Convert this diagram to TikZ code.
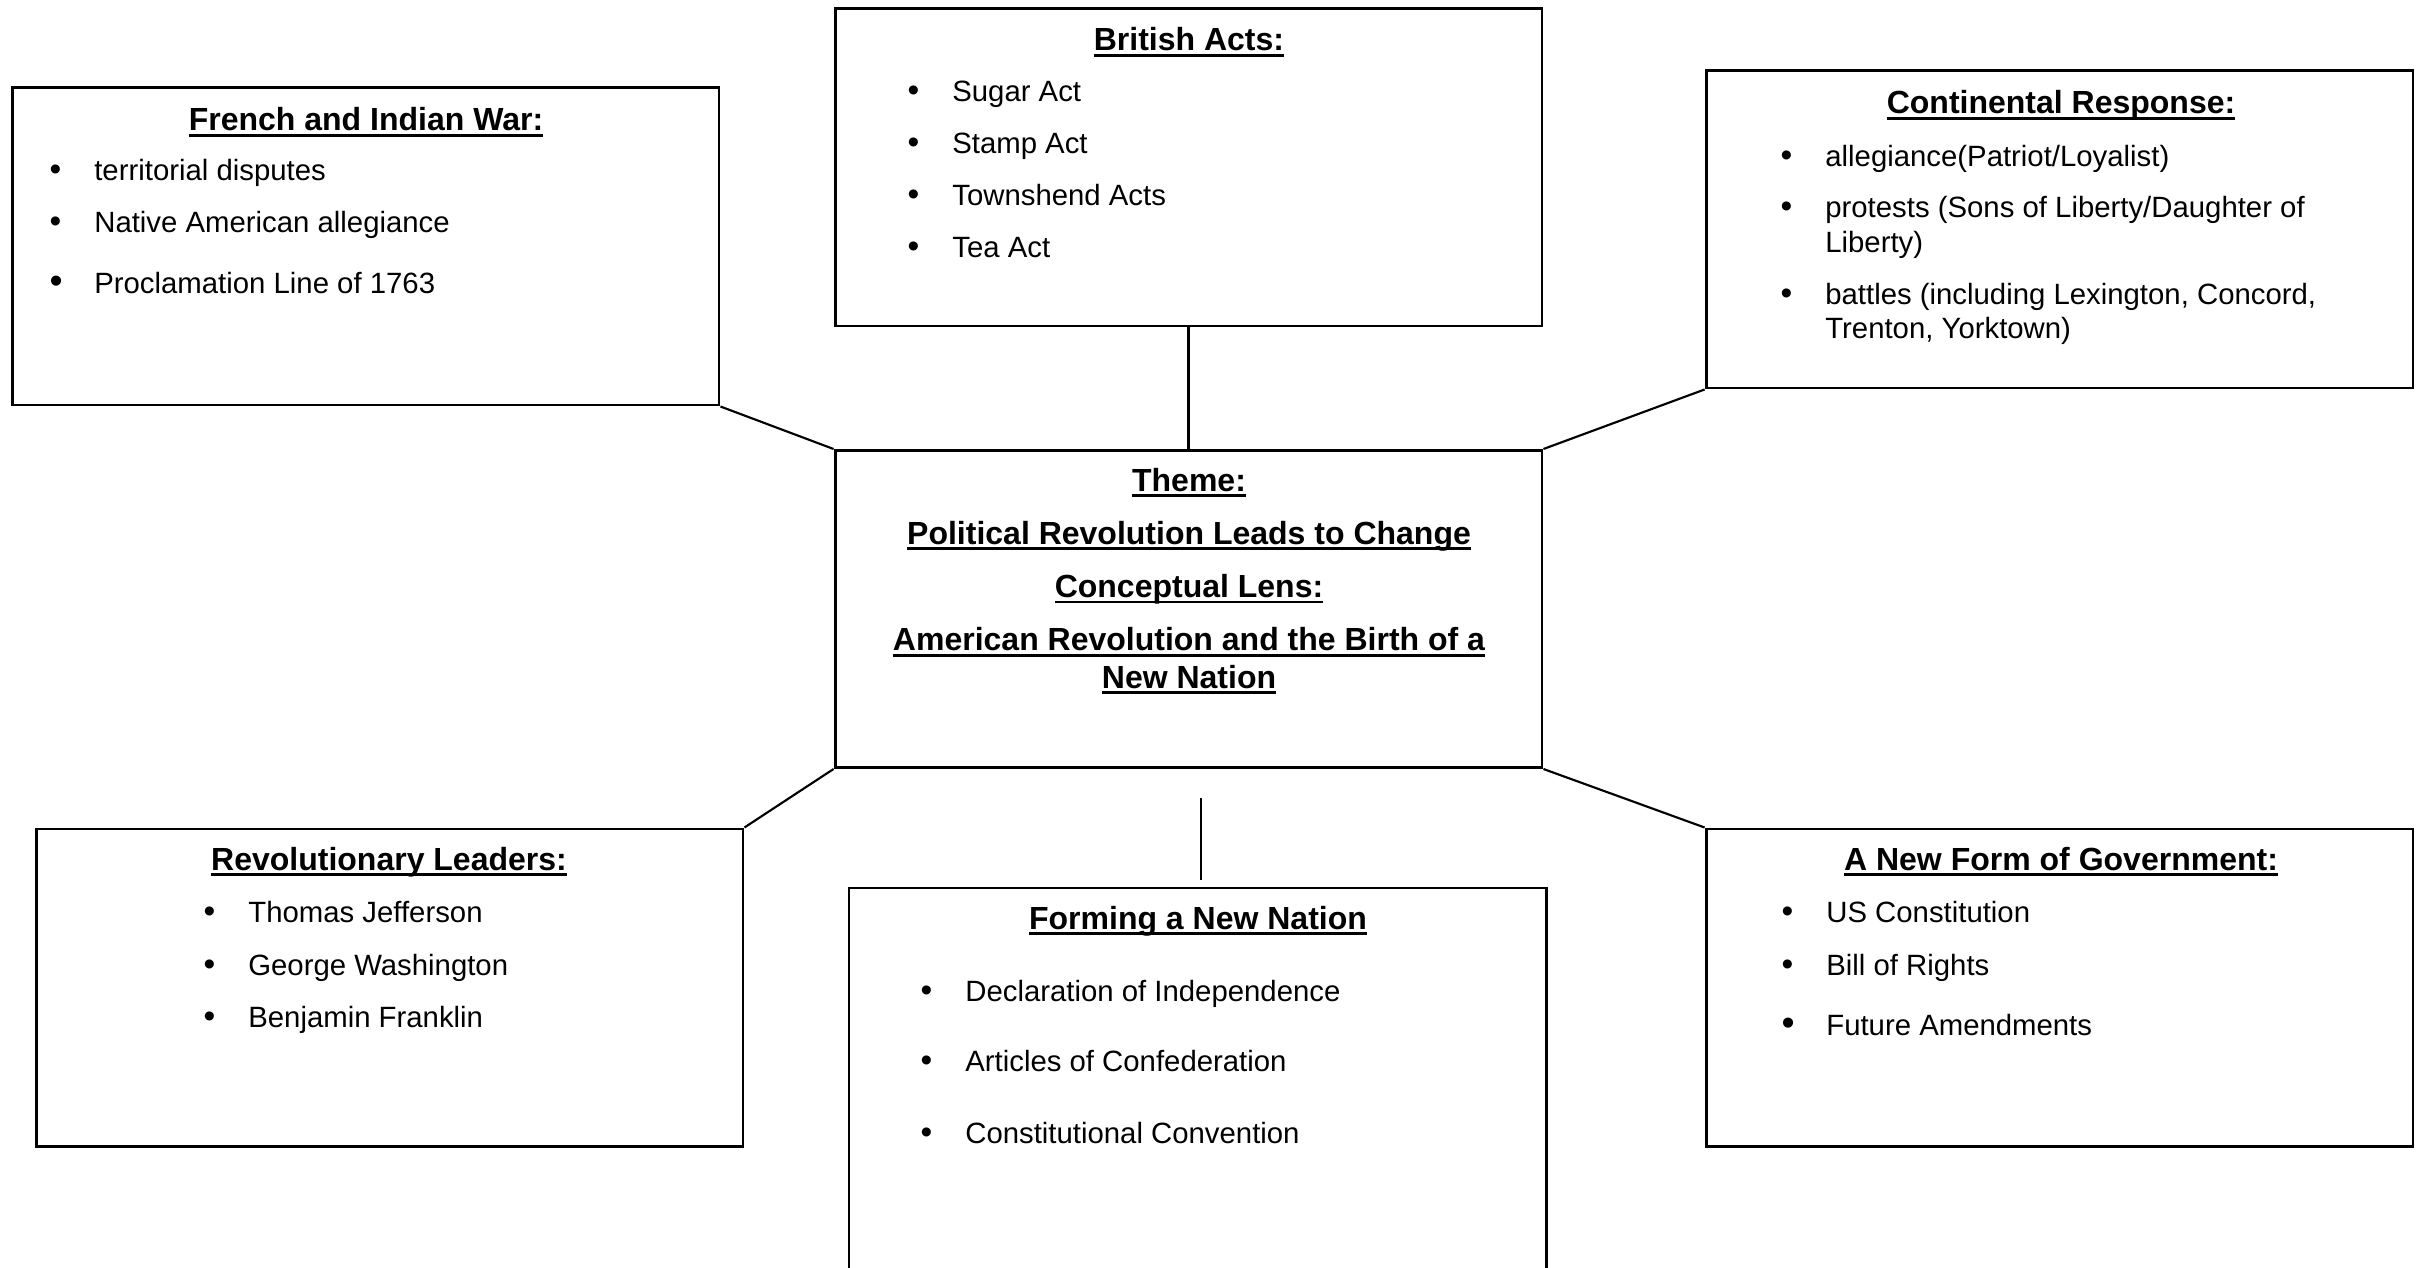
\documentclass[tikz,border=0pt]{standalone}
\usepackage{fontspec}
\setmainfont{Liberation Sans}
\usepackage{tikz}

\newbox\ulbox
\newcommand{\ultext}[1]{\setbox\ulbox=\hbox{\bfseries #1}\dp\ulbox=0pt\vtop{\box\ulbox\kern1pt\hrule height 1.1pt}}
\newcommand{\itm}[1]{\makebox[16.8pt][l]{\fontsize{12.5}{13}\selectfont\textbullet}#1}
\newcommand{\bigitm}[1]{\makebox[16.8pt][l]{\fontsize{14}{13}\selectfont\textbullet}#1}

\begin{document}
\begin{tikzpicture}[
  x=0.375pt, y=-0.375pt,
  topic/.style={rectangle, draw, line width=1.1pt, minimum width=265.1pt, minimum height=118.9pt, inner sep=0pt},
  heading/.style={anchor=base, inner sep=0pt, font=\fontsize{12}{14}\selectfont},
  lens/.style={anchor=north, inner sep=0pt, align=center, font=\fontsize{12}{14}\selectfont},
  items/.style={anchor=north west, inner sep=0pt, align=left, font=\fontsize{11}{13}\selectfont},
  link/.style={line width=0.8pt}
]
  \useasboundingbox (0,0) rectangle (2421,1268);
  \clip (0,0) rectangle (2421,1268);

  % boxes
  \node[topic] (war) at (365.5,246.5) {};
  \node[topic] (acts) at (1188.5,167.5) {};
  \node[topic] (resp) at (2059.5,229.5) {};
  \node[topic] (theme) at (1188.5,609) {};
  \node[topic] (leaders) at (389.5,987.5) {};
  \node[topic] (govt) at (2059.5,987.5) {};
  \node[topic, minimum width=261.4pt, minimum height=154.5pt] (nation) at (1197.5,1094) {};

  % headings
  \node[heading] (war-title) at (366,131) {\ultext{French and Indian War:}};
  \node[heading] (acts-title) at (1189,51) {\ultext{British Acts:}};
  \node[heading] (resp-title) at (2061,114) {\ultext{Continental Response:}};
  \node[heading] (leaders-title) at (389,870) {\ultext{Revolutionary Leaders:}};
  \node[heading] (nation-title) at (1198,929) {\ultext{Forming a New Nation}};
  \node[heading] (govt-title) at (2061,870) {\ultext{A New Form of Government:}};

  \node[lens] (theme-text) at (1189,468) {
    \ultext{Theme:}\\[5.9pt]
    \ultext{Political Revolution Leads to Change}\\[5.9pt]
    \ultext{Conceptual Lens:}\\[5.9pt]
    \ultext{American Revolution and the Birth of a}\\
    \ultext{New Nation}
  };

  % bullet lists
  \node[items] (war-list) at (49,159) {
    \itm{territorial disputes}\\[6.5pt]
    \itm{Native American allegiance}\\[9.9pt]
    \bigitm{Proclamation Line of 1763}
  };
  \node[items] (acts-list) at (907,80) {
    \itm{Sugar Act}\\[6.5pt]
    \itm{Stamp Act}\\[6.5pt]
    \itm{Townshend Acts}\\[6.5pt]
    \itm{Tea Act}
  };
  \node[items] (resp-list) at (1780,145) {
    \itm{allegiance(Patriot/Loyalist)}\\[6.1pt]
    \itm{protests (Sons of Liberty/Daughter of}\\
    \makebox[16.8pt]{}Liberty)\\[6.4pt]
    \itm{battles (including Lexington, Concord,}\\
    \makebox[16.8pt]{}Trenton, Yorktown)
  };
  \node[items] (leaders-list) at (203,901) {
    \itm{Thomas Jefferson}\\[6.9pt]
    \itm{George Washington}\\[6.5pt]
    \itm{Benjamin Franklin}
  };
  \node[items] (nation-list) at (920,980) {
    \itm{Declaration of Independence}\\[13.2pt]
    \itm{Articles of Confederation}\\[14pt]
    \itm{Constitutional Convention}
  };
  \node[items] (govt-list) at (1781,901) {
    \itm{US Constitution}\\[6.9pt]
    \itm{Bill of Rights}\\[9.5pt]
    \bigitm{Future Amendments}
  };

  % connectors
  \draw[link] (war.south east) -- (theme.north west);
  \draw[link] (acts.south) -- (theme.north);
  \draw[link] (resp.south west) -- (theme.north east);
  \draw[link] (theme.south west) -- (leaders.north east);
  \draw[link] (theme.south east) -- (govt.north west);
  \coordinate (stub-top) at (1201,798);
  \coordinate (stub-end) at (1201,880);
  \draw[link] (stub-top) -- (stub-end);
\end{tikzpicture}
\end{document}
